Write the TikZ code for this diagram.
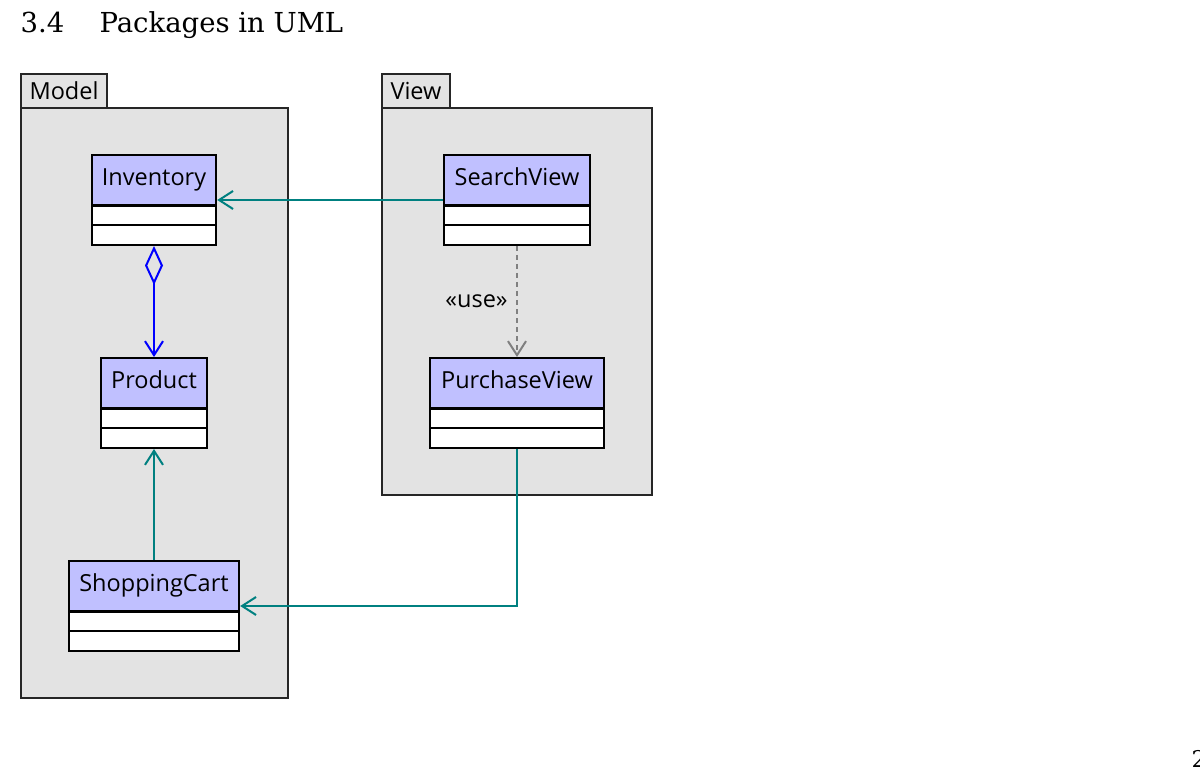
\documentclass[tikz,border=0pt]{standalone}
\usepackage{fontspec}
\setmainfont{DejaVu Serif}
\newfontfamily\umlfont{Open Sans}
\usetikzlibrary{arrows.meta,shapes.multipart,positioning}
\definecolor{pkggray}{HTML}{E3E3E3}
\definecolor{clsblue}{HTML}{C0C0FF}
\definecolor{assocteal}{HTML}{008080}
\tikzset{
  uml/.style={font=\umlfont\fontsize{23.5}{28}\selectfont},
  pkg/.style={uml, draw=black!85, line width=1.2pt, fill=pkggray, inner sep=0pt, outer sep=0pt},
  pkgtab/.style={pkg, anchor=south west, minimum height=34pt, minimum width=#1},
  cls/.style={uml, rectangle split, rectangle split parts=3, draw, line width=2.4pt,
    rectangle split part fill={clsblue,white,white}, inner ysep=0pt,
    rectangle split empty part height=17.2pt, rectangle split empty part depth=0pt,
    execute at begin node={\rule[-18.5pt]{0pt}{48pt}}, minimum width=#1},
  barb/.style={-{Straight Barb[length=14pt,width=18pt]}},
  assoc/.style={draw=assocteal, line width=2pt, barb},
  aggr/.style={draw=blue, line width=2pt, {Diamond[open,length=39pt,width=18pt]}-{Straight Barb[length=14pt,width=18pt]}},
  dep/.style={draw=gray, line width=2pt, dash pattern=on 5pt off 4pt, barb},
  heading/.style={anchor=base west, font=\fontsize{27.5}{32}\selectfont}
}
\begin{document}
\begin{tikzpicture}[x=1pt,y=-1pt]
\useasboundingbox (0,0) rectangle (1200,778);
\node[heading] (num) at (17,32.5) {3.4};
\node[heading] (title) at (96,32.5) {Packages in UML};
\node[anchor=base west, font=\fontsize{23}{28}\selectfont] (page) at (1188,767) {2};
% packages
\node[pkg, minimum width=267pt, minimum height=590pt] (model) at (154.5,403) {};
\node[pkgtab=86pt] (model-tab) at (model.north west) {Model};
\node[pkg, minimum width=270pt, minimum height=387pt] (view) at (517,301.5) {};
\node[pkgtab=68pt] (view-tab) at (view.north west) {View};
% classes
\node[cls=124pt] (inv) at (154,200) {Inventory};
\node[cls=106pt] (prod) at (154,403) {Product};
\node[cls=170pt] (cart) at (154,606) {ShoppingCart};
\node[cls=146pt] (search) at (517,200) {SearchView};
\node[cls=174pt] (purchase) at (517,403) {PurchaseView};
% relations
\draw[assoc] (search) -- (inv);
\draw[aggr] (inv) -- (prod);
\draw[assoc] (cart) -- (prod);
\draw[dep] (search) -- node[uml, left, xshift=-5pt] {«use»} (purchase);
\draw[assoc] (purchase) |- (cart);
\end{tikzpicture}
\end{document}
